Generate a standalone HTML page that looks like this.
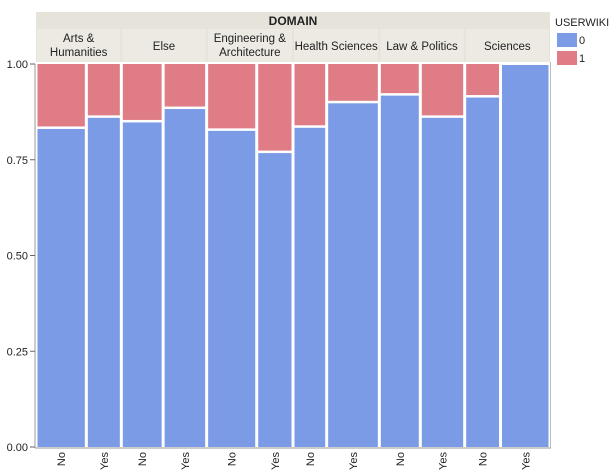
<!DOCTYPE html>
<html><head><meta charset="utf-8"><style>
body{margin:0;background:#fff;font-family:"Liberation Sans",sans-serif;}
svg{display:block}
</style></head><body>
<svg id="chart" width="616" height="473"></svg>
<script>
const domains=["Arts & Humanities","Else","Engineering & Architecture","Health Sciences","Law & Politics","Sciences"];
const domainShare=[0.166,0.166,0.168,0.168,0.166,0.166];
const noShare=[0.59,0.49,0.58,0.39,0.48,0.42];
const zeroNo=[0.833,0.85,0.828,0.836,0.92,0.915];
const zeroYes=[0.862,0.885,0.77,0.90,0.862,1.0];
const yTicks=[0,0.25,0.5,0.75,1];
const groupLabels=["No","Yes"];

const NS="http://www.w3.org/2000/svg";
const svg=document.getElementById("chart");
const X0=36,X1=550,Y0=447,Y1=64;
const xs=f=>X0+f*(X1-X0);
const ys=v=>Y0-v*(Y0-Y1);
function mk(t,a,p){const e=document.createElementNS(NS,t);for(const k in a)e.setAttribute(k,a[k]);(p||svg).appendChild(e);return e;}
// header
let h=mk("rect",{x:36,y:12,width:514,height:50,fill:"#e6e4da"});


let dt=mk("text",{x:293,y:25,"text-anchor":"middle","font-size":"12","font-weight":"bold",fill:"#222"});dt.textContent="DOMAIN";


// axes
let ax=mk("line",{x1:35,y1:64,x2:35,y2:448,stroke:"#999","stroke-width":1});


let bx=mk("line",{x1:35,y1:448,x2:551,y2:448,stroke:"#999","stroke-width":1});


mk("line",{x1:550.5,y1:62,x2:550.5,y2:448,stroke:"#bbb","stroke-width":1});
yTicks.forEach(v=>{
  mk("line",{x1:30,x2:35,y1:ys(v),y2:ys(v),stroke:"#666"});
  const t=mk("text",{x:28,y:ys(v)+4,"text-anchor":"end","font-size":"11",fill:"#222"});
  t.textContent=v.toFixed(2);
  
  
});
let cum=0;
domains.forEach((d,i)=>{
  const a=cum,b=cum+domainShare[i];cum=b;
  const xa=xs(a),xb=xs(b);
  const c=mk("rect",{x:xa+1,y:29,width:xb-xa-2,height:33,fill:"#eceae2"});
  
  
  const parts=d==="Arts & Humanities"?["Arts &","Humanities"]:d==="Engineering & Architecture"?["Engineering &","Architecture"]:[d];
  parts.forEach((p,j)=>{
    const t=mk("text",{x:(xa+xb)/2,y:parts.length==1?50:42+j*14,"text-anchor":"middle","font-size":"11.5",fill:"#222"});
    t.textContent=p;
    
    
  });
  const xm=xs(a+noShare[i]*domainShare[i]);
  [[xa,xm,zeroNo[i]],[xm,xb,zeroYes[i]]].forEach((s,k)=>{
    const l=s[0]+1.5,w=s[1]-s[0]-3;
    const r0=mk("rect",{x:l,y:ys(s[2])+1,width:w,height:ys(0)-ys(s[2])-1,fill:"#7b9be6"});
    
    
    if(s[2]<1){const r1=mk("rect",{x:l,y:ys(1),width:w,height:ys(s[2])-ys(1)-1.5,fill:"#e07c86"});
      
      }
    const cx=(s[0]+s[1])/2;
    const t=mk("text",{x:0,y:0,"text-anchor":"end","font-size":"11",fill:"#222",transform:`translate(${cx+4},452) rotate(-90)`});
    t.textContent=groupLabels[k];
    
    
  });
});
// legend
let lt=mk("text",{x:555,y:26,"font-size":"11",fill:"#222"});lt.textContent="USERWIKI";


[["0","#7b9be6",39],["1","#e07c86",57]].forEach(e=>{
  const g=mk("g",{});
  
  
  mk("rect",{x:557,y:e[2]-6,width:20,height:14,fill:e[1]},g);
  const t=mk("text",{x:579,y:e[2]+5,"font-size":"11",fill:"#222"},g);t.textContent=e[0];
});
</script>
</body></html>
